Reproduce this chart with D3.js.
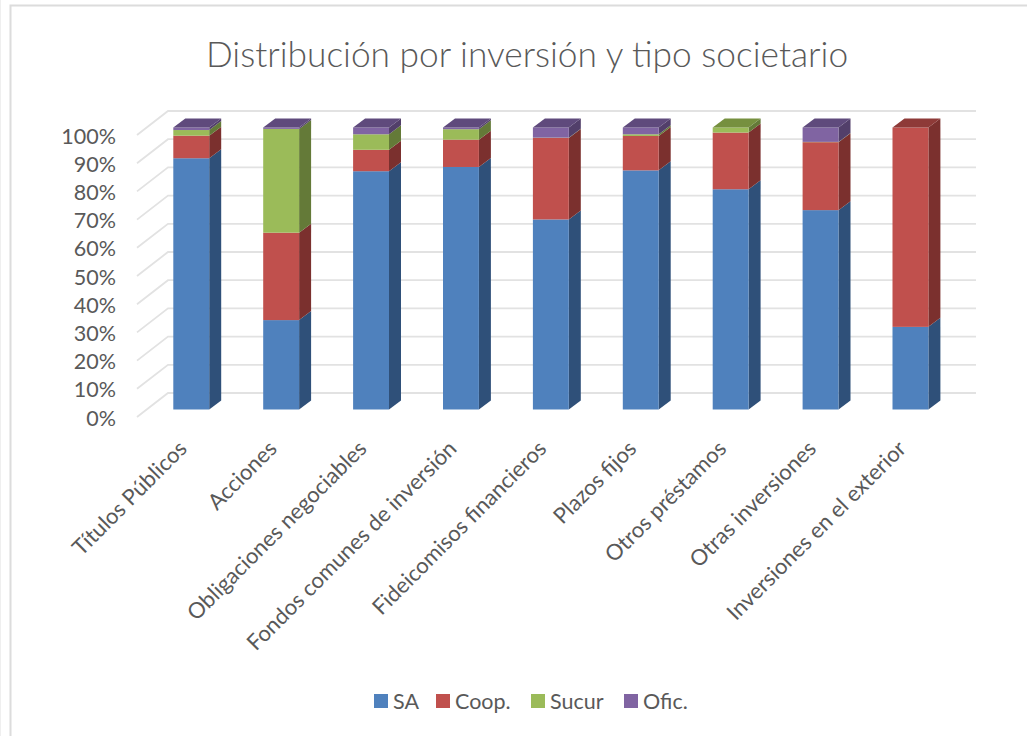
<!DOCTYPE html>
<html>
<head>
<meta charset="utf-8">
<script src="https://cdn.jsdelivr.net/npm/d3@7"></script>
<style>
body { margin: 0; background: #fff; }
text { font-family: Lato, "Open Sans", sans-serif; fill: #595959; }
</style>
</head>
<body>
<div id="chart"></div>
<script>
// categories and values (% of each bar)
var categories = ["Títulos Públicos", "Acciones", "Obligaciones negociables", "Fondos comunes de inversión",
    "Fideicomisos financieros", "Plazos fijos", "Otros préstamos", "Otras inversiones", "Inversiones en el exterior"];
var seriesNames = ["SA", "Coop.", "Sucur", "Ofic."];
var sa =    [89.1, 31.7, 84.5, 86.0, 67.4, 84.8, 78.1, 70.7, 29.3];
var coop =  [8.0, 31.0, 7.6, 9.7, 28.9, 12.2, 20.1, 24.1, 70.7];
var sucur = [2.0, 36.8, 5.5, 3.7, 0.1, 0.6, 1.8, 0.1, 0];
var ofic =  [0.9, 0.5, 2.4, 0.6, 3.6, 2.4, 0, 5.1, 0];
var yTicks = [0, 10, 20, 30, 40, 50, 60, 70, 80, 90, 100];

var colors = ["#4f81bd", "#c0504d", "#9bbb59", "#8064a2"];
var sideColors = ["#2f5079", "#7b302e", "#647a38", "#523f6a"];
var topColors = ["#3c6391", "#8e3a38", "#76903f", "#5f4a7c"];

var width = 1027, height = 736;
var depthX = 12, depthY = 9;   // bar depth
var wallX = 31, wallY = 24;    // floor depth

var svg = d3.select("#chart").append("svg")
    .attr("width", width)
    .attr("height", height)
    .style("display", "block");

// chart border: only top and left show in the picture
svg.append("path")
    .attr("d", "M10.5,736V5.5H1027")
    .attr("fill", "none")
    .attr("stroke", "#dcdcdc")
    .attr("stroke-width", 2);
svg.append("path")
    .attr("d", "M0.5,0V736")
    .attr("stroke", "#efefef");

svg.append("text")
    .attr("x", 527).attr("y", 67)
    .attr("text-anchor", "middle")
    .style("font-size", "35.3px")
    .style("font-weight", 300)
    .text("Distribución por inversión y tipo societario");

// scales, front plane of the bars
var xScale = d3.scaleBand()
    .domain(categories)
    .range([146.3, 146.3 + 89.9 * 9])
    .paddingInner(54 / 89.9)
    .paddingOuter(27 / 89.9);

var yScale = d3.scaleLinear()
    .domain([0, 100])
    .range([409.5, 127.5]);

// y axis sits on the front edge of the floor
var yFront = 7.5;
var yAxis = d3.axisLeft(yScale).tickValues(yTicks).tickSize(0).tickPadding(0)
    .tickFormat(function(d) { return d + "%"; });

var axisG = svg.append("g")
    .attr("transform", "translate(116," + (yFront + 1.2) + ")")
    .call(yAxis);
axisG.select(".domain").remove();
axisG.selectAll("text").style("font-size", "21.5px");

// walls: gridlines across the back, then down the side
var grid = svg.append("g")
    .attr("fill", "none")
    .attr("stroke", "#e2e2e2")
    .attr("stroke-width", 1.8);

yTicks.forEach(function(t) {
    var y = yScale(t) + yFront;
    grid.append("path")
        .attr("d", d3.line()([[137, y], [137 + wallX, y - wallY], [976, y - wallY]]));
});

// stacked bars
var stacked = d3.stack().keys(d3.range(4)).value(function(d, k) { return d[k]; })(
    categories.map(function(c, i) { return [sa[i], coop[i], sucur[i], ofic[i]]; }));

var barWidth = xScale.bandwidth();

stacked.forEach(function(layer, k) {
    var g = svg.append("g");
    layer.forEach(function(d, i) {
        if (d[1] - d[0] <= 0) return;
        var x0 = xScale(categories[i]), x1 = x0 + barWidth;
        var y0 = yScale(d[0]), y1 = yScale(d[1]);

        // side face
        g.append("path")
            .attr("fill", sideColors[k])
            .attr("d", d3.line()([[x1, y0], [x1 + depthX, y0 - depthY], [x1 + depthX, y1 - depthY], [x1, y1]]));

        // front face
        g.append("rect")
            .attr("x", x0).attr("y", y1)
            .attr("width", barWidth).attr("height", y0 - y1)
            .attr("fill", colors[k]);

        // top face only on the last visible segment
        if (d[1] >= 99.95) {
            g.append("path")
                .attr("fill", topColors[k])
                .attr("d", d3.line()([[x0, y1], [x0 + depthX, y1 - depthY], [x1 + depthX, y1 - depthY], [x1, y1]]));
        }
    });
});

// category labels
categories.forEach(function(c) {
    var x = xScale(c) + barWidth / 2 - 3;
    svg.append("text")
        .attr("transform", "translate(" + x + ",450) rotate(-45)")
        .attr("text-anchor", "end")
        .style("font-size", "22px")
        .text(c);
});

// legend
var legendX = [374, 436, 531, 624];
seriesNames.forEach(function(s, i) {
    svg.append("rect")
        .attr("x", legendX[i]).attr("y", 694)
        .attr("width", 14).attr("height", 14)
        .attr("fill", colors[i]);
    svg.append("text")
        .attr("x", legendX[i] + 19).attr("y", 708.5)
        .style("font-size", "21.5px")
        .text(s);
});
</script>
</body>
</html>
